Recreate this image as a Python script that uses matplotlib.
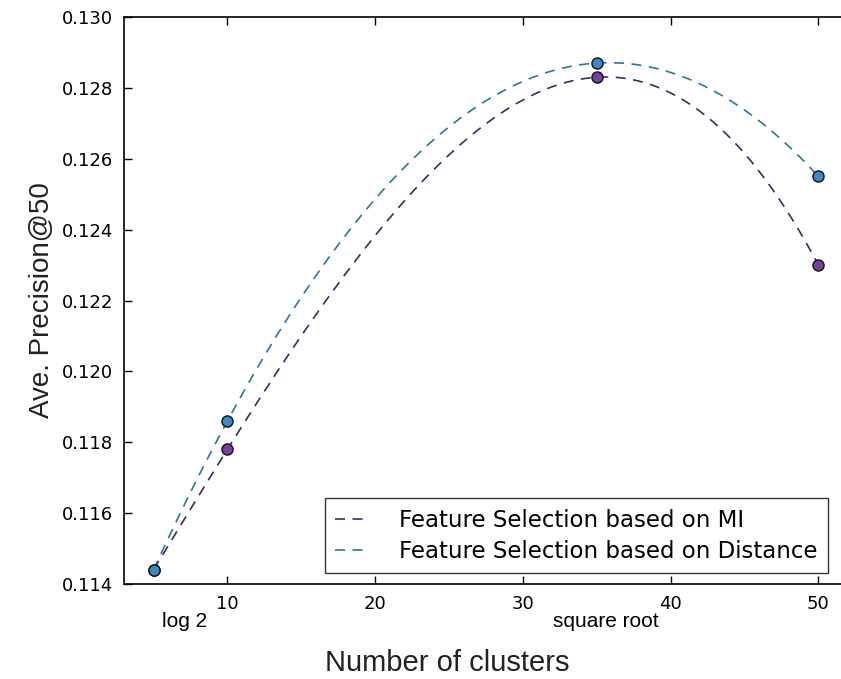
import numpy as np
import matplotlib
matplotlib.use("Agg")
import matplotlib.pyplot as plt
from matplotlib import font_manager

# ---- data ----
clusters = [5, 10, 35, 50]
prec_mi = [0.1144, 0.1178, 0.1283, 0.1230]
prec_dist = [0.1144, 0.1186, 0.1287, 0.1255]
series_labels = ["Feature Selection based on MI", "Feature Selection based on Distance"]
xticks = [10, 20, 30, 40, 50]
yticks = [0.114, 0.116, 0.118, 0.120, 0.122, 0.124, 0.126, 0.128, 0.130]
extra_labels = ["log 2", "square root"]
extra_pos = [7.1, 35.6]

names = {f.name for f in font_manager.fontManager.ttflist}
narrow = "Liberation Sans Narrow" if "Liberation Sans Narrow" in names else "Liberation Sans"

W, H = 841, 679
fig = plt.figure(figsize=(W / 100, H / 100), dpi=100)
left_px, right_px, top_px, bottom_px = 124, 870, 17, 584
ax = fig.add_axes([left_px / W, 1 - bottom_px / H, (right_px - left_px) / W, (bottom_px - top_px) / H])

x_min = 3.0
px_per_unit = (820 - 229) / 40.0
x_max = x_min + (right_px - left_px) / px_per_unit

xs = np.linspace(min(clusters), max(clusters), 300)
line_cols = ["#3d2b5e", "#2b7796"]
mark_cols = ["#7a3f9d", "#3a88c4"]
for ys, lab, lc in zip([prec_mi, prec_dist], series_labels, line_cols):
    coef = np.polyfit(clusters, ys, 3)
    ax.plot(xs, np.polyval(coef, xs), linestyle=(0, (6, 4.5)), color=lc, lw=1.2, label=lab)
for ys, mc in zip([prec_mi, prec_dist], mark_cols):
    ax.plot(clusters, ys, linestyle="none", marker="o", markersize=8,
            markerfacecolor=mc, markeredgecolor="#111111", markeredgewidth=1.0, zorder=5)

ax.set_xlim(x_min, x_max)
ax.set_ylim(0.114, 0.130)
ax.set_xticks(xticks)
ax.set_yticks(yticks)
ax.set_yticklabels([f"{v:.3f}" for v in yticks])
ax.tick_params(direction="in", length=6, width=1, top=True, right=True,
               labelsize=13, pad=8, colors="black")
for s in ax.spines.values():
    s.set_linewidth(1.2)

for lab, xp in zip(extra_labels, extra_pos):
    ax.text(xp, -0.066, lab, transform=ax.get_xaxis_transform(), ha="center", va="center",
            fontsize=15, family=[narrow, "DejaVu Sans"])

fig.text(447 / W, 1 - 663 / H, "Number of clusters", ha="center", va="center",
         fontsize=21, family=[narrow, "DejaVu Sans"], color="#222222")
fig.text(42 / W, 1 - 300 / H, "Ave. Precision@50", ha="center", va="center", rotation=90,
         fontsize=20, family=[narrow, "DejaVu Sans"], color="#222222")

leg = ax.legend(loc="lower left", bbox_to_anchor=((325 - left_px) / (right_px - left_px),
                (bottom_px - 573) / (bottom_px - top_px)),
                fontsize=16.5, frameon=True, fancybox=False, handlelength=1.25,
                borderaxespad=0, borderpad=0.45, labelspacing=0.35, handletextpad=1.55)
leg.get_frame().set_edgecolor("black")
leg.get_frame().set_linewidth(1.0)

fig.savefig("out.png", dpi=100)
